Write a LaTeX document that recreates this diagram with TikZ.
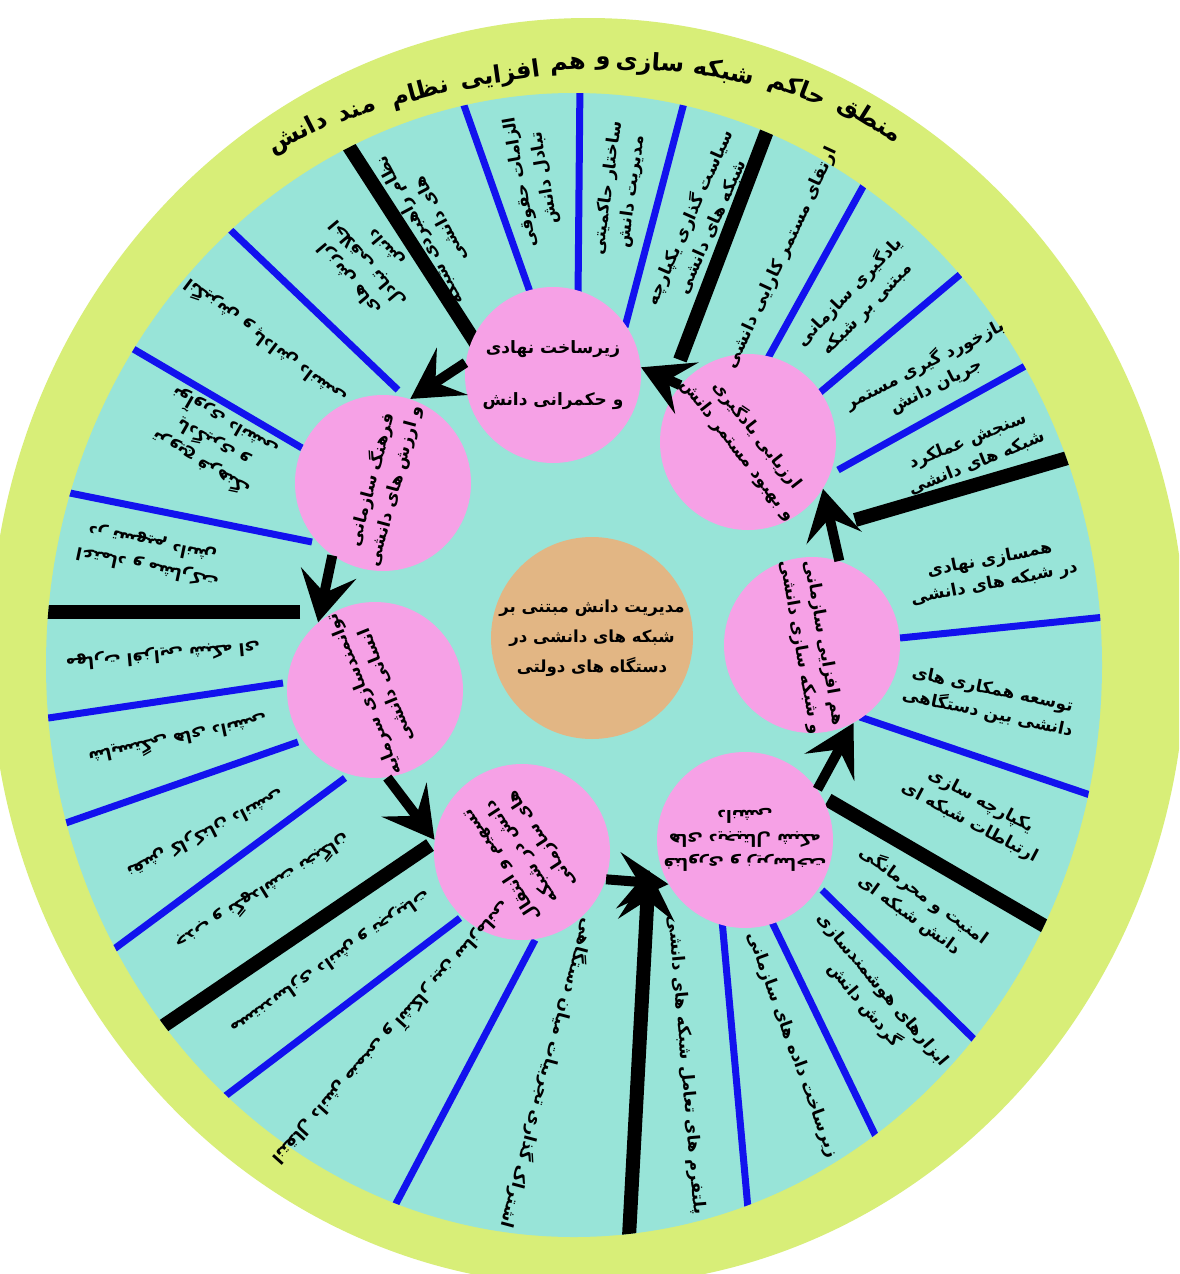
\documentclass[tikz,border=0pt]{standalone}
\usepackage{fontspec}
\newfontfamily\fa[Script=Arabic]{DejaVu Sans}
\TeXXeTstate=1
\usetikzlibrary{arrows.meta}
\definecolor{ringgreen}{HTML}{D8EE78}
\definecolor{tealc}{HTML}{98E4D8}
\definecolor{pinkc}{HTML}{F6A1E6}
\definecolor{tanc}{HTML}{E2B684}
\definecolor{blueln}{HTML}{1212EE}
\newcommand{\rl}[1]{\beginR #1\endR}
\begin{document}
\begin{tikzpicture}[x=0.5pt,y=-0.5pt,
  segtxt/.style={font=\fa\bfseries\fontsize{8.5}{12}\selectfont, align=center, inner sep=0pt},
  titletxt/.style={font=\fa\bfseries\fontsize{12}{15}\selectfont, inner sep=0pt},
  hub/.style={circle, fill=pinkc, minimum size=88pt, inner sep=0pt, align=center,
     font=\fa\bfseries\fontsize{8.5}{12}\selectfont},
  core/.style={circle, fill=tanc, minimum size=101pt, inner sep=0pt, align=center,
     font=\fa\bfseries\fontsize{8.3}{15}\selectfont},
  blueline/.style={draw=blueln, line width=3.5pt},
  blackline/.style={draw=black, line width=7pt},
  arr/.style={draw=black, line width=5pt, -{Stealth[length=25pt,width=28pt,inset=10pt]}}]
\useasboundingbox (0,0) rectangle (1179,1274);
\clip (0,0) rectangle (1179,1274);
\fill[white] (0,0) rectangle (1179,1274);
\fill[ringgreen] (588,652) ellipse [x radius=299pt, y radius=317pt];
\fill[tealc] (574,665) ellipse [x radius=264pt, y radius=286pt];
\begin{scope}
\clip (574,665) ellipse [x radius=264pt, y radius=286pt];
% top sector
\draw[blueline] (530,292) -- (455,80);
\draw[blueline] (578,298) -- (580,80);
\draw[blueline] (625,327) -- (690,80);
\draw[blackline] (477,345) -- (335,125);
\draw[blackline] (680,360) -- (775,110);
% upper right
\draw[blueline] (763,367) -- (875,165);
\draw[blueline] (817,395) -- (975,262);
\draw[blueline] (838,470) -- (1045,355);
\draw[blackline] (855,520) -- (1095,450);
% right
\draw[blueline] (900,638) -- (1115,616);
\draw[blueline] (860,717) -- (1105,800);
\draw[blackline] (828,800) -- (1060,935);
% lower right
\draw[blueline] (822,890) -- (985,1050);
\draw[blueline] (770,918) -- (880,1145);
\draw[blueline] (722,920) -- (749,1220);
\draw[blackline, -{Stealth[length=25pt,width=28pt,inset=10pt]}] (628,1255) -- (649,870);
% bottom
\draw[blueline] (535,940) -- (390,1215);
\draw[blueline] (460,918) -- (220,1100);
\draw[blackline] (430,845) -- (150,1035);
% lower left
\draw[blueline] (283,683) -- (35,720);
\draw[blueline] (298,742) -- (60,825);
\draw[blueline] (345,778) -- (110,952);
\draw[blackline] (300,612) -- (35,612);
% upper left
\draw[blueline] (312,542) -- (55,490);
\draw[blueline] (302,448) -- (118,340);
\draw[blueline] (398,390) -- (220,220);
\end{scope}

% hubs
\node[core] (core) at (592,638) {\rl{مدیریت دانش مبتنی بر}\\\rl{شبکه های دانشی در}\\\rl{دستگاه های دولتی}};
\node[hub] (top) at (553,375) {\rl{زیرساخت نهادی}\\[14pt]\rl{و حکمرانی دانش}};
\node[hub] (ur) at (748,442) {};
\node[hub] (rr) at (812,645) {};
\node[hub] (lr) at (745,840) {};
\node[hub] (bot) at (522,852) {};
\node[hub] (ll) at (375,690) {};
\node[hub] (ul) at (383,483) {};
\node[segtxt, rotate=-52] (urt) at (ur) {\rl{ارزیابی یادگیری}\\\rl{و بهبود مستمر دانش}};
\node[segtxt, rotate=-80] (rrt) at (rr) {\rl{هم افزایی سازمانی}\\\rl{و شبکه سازی دانشی}};
\node[segtxt, rotate=180] (lrt) at (lr) {\rl{فناوری و زیرساخت}\\\rl{های دیجیتال شبکه}\\\rl{دانشی}};
\node[segtxt, rotate=123] (bott) at (bot) {\rl{تسهیم و انتقال}\\\rl{دانش در شبکه}\\\rl{های سازمانی}};
\node[segtxt, rotate=112] (llt) at (ll) {\rl{توانمندسازی سرمایه}\\\rl{انسانی دانشی}};
\node[segtxt, rotate=75] (ult) at (ul) {\rl{فرهنگ سازمانی}\\\rl{و ارزش های دانشی}};

% flow arrows
\draw[arr] (ur.140) -- (top.5);
\draw[arr] (top.172) -- (ul.72);
\draw[arr] (ul.235) -- (ll.130);
\draw[arr] (ll.-82) -- (bot.172);
\draw[arr] (bot.-18) -- (lr.210);
\draw[arr] (lr.35) -- (rr.-62);
\draw[arr] (rr.72) -- (ur.-32);

% sector texts: top
\node[segtxt, rotate=118] (t1) at (430,225) {\rl{نظام راهبردی شبکه}\\\rl{های دانشی}};
\node[segtxt, rotate=100] (t2) at (533,180) {\rl{الزامات حقوقی}\\\rl{تبادل دانش}};
\node[segtxt, rotate=82] (t3) at (620,190) {\rl{ساختار حاکمیتی}\\\rl{مدیریت دانش}};
\node[segtxt, rotate=66] (t4) at (700,222) {\rl{سیاست گذاری یکپارچه}\\\rl{شبکه های دانشی}};
% upper right
\node[segtxt, rotate=65] (u1) at (782,258) {\rl{ارتقای مستمر کارایی دانشی}};
\node[segtxt, rotate=46] (u2) at (858,300) {\rl{یادگیری سازمانی}\\\rl{مبتنی بر شبکه}};
\node[segtxt, rotate=27] (u3) at (930,375) {\rl{بازخورد گیری مستمر}\\\rl{جریان دانش}};
\node[segtxt, rotate=22] (u4) at (972,452) {\rl{سنجش عملکرد}\\\rl{شبکه های دانشی}};
% right
\node[segtxt, rotate=11] (r1) at (992,572) {\rl{همسازی نهادی}\\\rl{در شبکه های دانشی}};
\node[segtxt, rotate=-12] (r2) at (990,702) {\rl{توسعه همکاری های}\\\rl{دانشی بین دستگاهی}};
\node[segtxt, rotate=-28] (r3) at (975,812) {\rl{یکپارچه سازی}\\\rl{ارتباطات شبکه ای}};
% lower right
\node[segtxt, rotate=-36] (l1) at (917,905) {\rl{امنیت و محرمانگی}\\\rl{دانش شبکه ای}};
\node[segtxt, rotate=-50] (l2) at (873,998) {\rl{ابزارهای هوشمندسازی}\\\rl{گردش دانش}};
\node[segtxt, rotate=-70] (l3) at (792,1045) {\rl{زیرساخت داده های سازمانی}};
\node[segtxt, rotate=-85] (l4) at (686,1065) {\rl{پلتفرم های تعامل شبکه های دانشی}};
% bottom
\node[segtxt, rotate=255] (b1) at (548,1073) {\rl{اشتراک گذاری تجربیات میان دستگاهی}};
\node[segtxt, rotate=228] (b2) at (392,1033) {\rl{انتقال دانش ضمنی و آشکار بین سازمانی}};
\node[segtxt, rotate=215] (b3) at (330,962) {\rl{مستندسازی دانش و تجربیات}};
% lower left
\node[segtxt, rotate=185] (ll1) at (163,655) {\rl{مهارت افزایی شبکه ای}};
\node[segtxt, rotate=192] (ll2) at (178,740) {\rl{شایستگی های دانشی}};
\node[segtxt, rotate=207] (ll3) at (205,833) {\rl{نقش کارکنان دانشی}};
\node[segtxt, rotate=212] (ll4) at (263,892) {\rl{جذب و نگهداشت نخبگان}};
% upper left
\node[segtxt, rotate=168] (lu1) at (150,555) {\rl{اعتماد و مشارکت}\\\rl{در تسهیم دانش}};
\node[segtxt, rotate=150] (lu2) at (213,443) {\rl{ترویج فرهنگ}\\\rl{یادگیری و}\\\rl{نوآوری دانشی}};
\node[segtxt, rotate=143] (lu3) at (265,342) {\rl{انگیزش و پاداش دانشی}};
\node[segtxt, rotate=130] (lu4) at (368,263) {\rl{ارزش های}\\\rl{اخلاقی تبادل}\\\rl{دانش}};

% title
\node[titletxt, rotate=-32] (w1) at (870,120) {\rl{منطق}};
\node[titletxt, rotate=-21] (w2) at (797,90) {\rl{حاکم}};
\node[titletxt, rotate=-11] (w3) at (724,72) {\rl{شبکه}};
\node[titletxt, rotate=-4] (w4) at (650,64) {\rl{سازی}};
\node[titletxt, rotate=0] (w5) at (603,64) {\rl{و}};
\node[titletxt, rotate=3] (w6) at (568,66) {\rl{هم}};
\node[titletxt, rotate=8] (w7) at (500,76) {\rl{افزایی}};
\node[titletxt, rotate=15] (w8) at (420,93) {\rl{نظام}};
\node[titletxt, rotate=21] (w9) at (357,111) {\rl{مند}};
\node[titletxt, rotate=27] (w10) at (298,134) {\rl{دانش}};
\end{tikzpicture}
\end{document}
